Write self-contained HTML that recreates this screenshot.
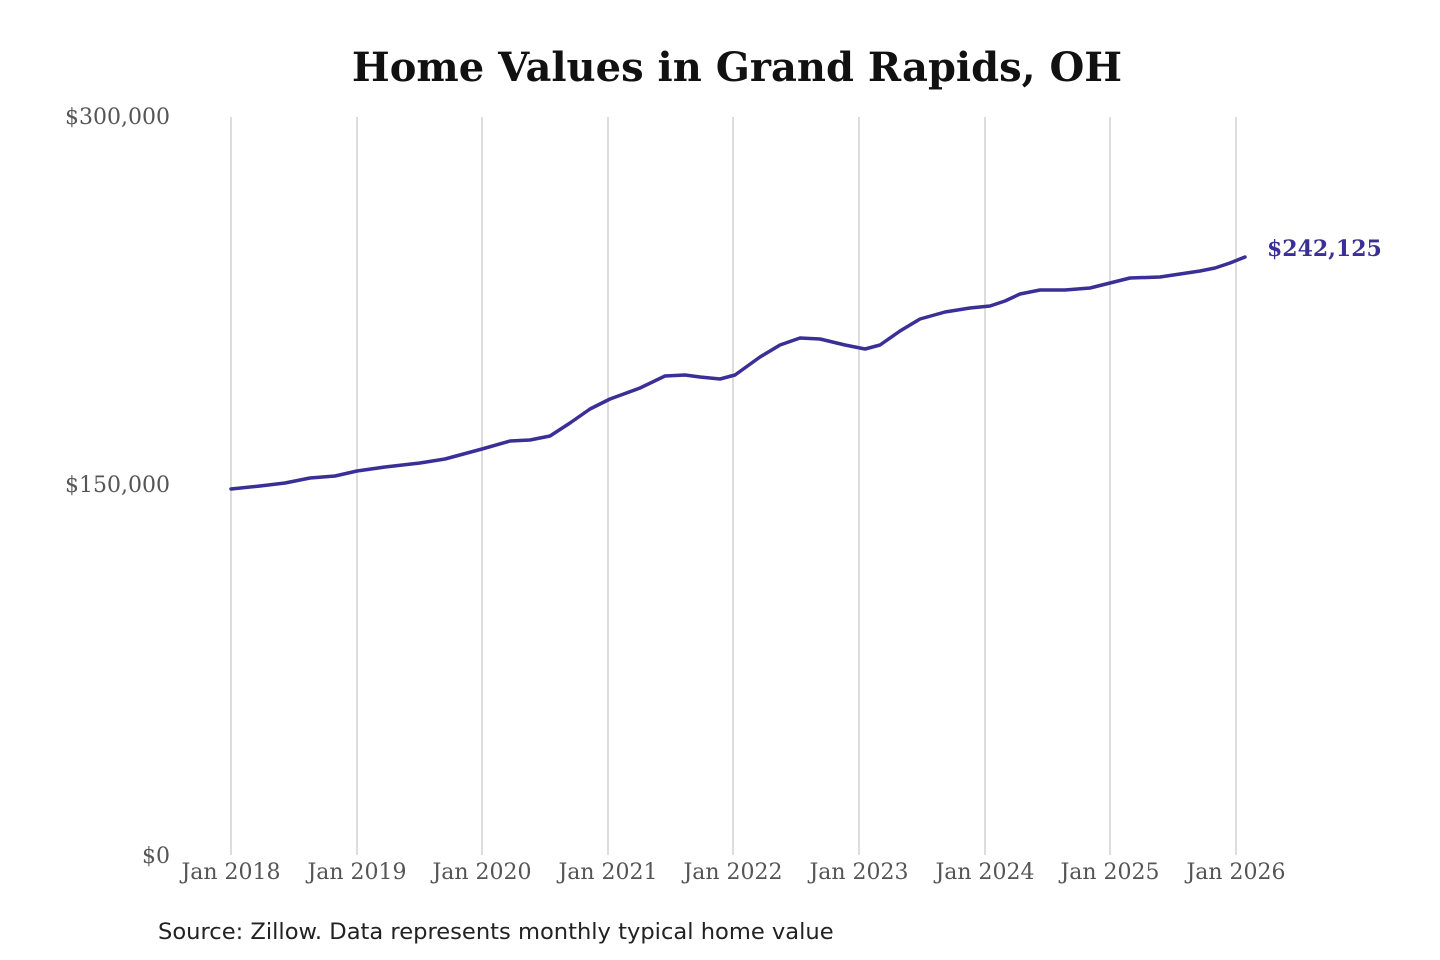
<!DOCTYPE html>
<html><head><meta charset="utf-8"><style>
html,body{margin:0;padding:0;background:#fff;width:1440px;height:960px;overflow:hidden}
svg{display:block}
</style></head><body>
<svg width="1440" height="960" viewBox="0 0 1440 960" xmlns="http://www.w3.org/2000/svg">
<text x="737" y="81" text-anchor="middle" font-family="'DejaVu Serif',serif" font-weight="bold" font-size="40" fill="#111">Home Values in Grand Rapids, OH</text>
<g stroke="#bbb" stroke-width="1">
<line x1="231" y1="117" x2="231" y2="855"/><line x1="357" y1="117" x2="357" y2="855"/>
<line x1="482" y1="117" x2="482" y2="855"/><line x1="608" y1="117" x2="608" y2="855"/>
<line x1="733" y1="117" x2="733" y2="855"/><line x1="859" y1="117" x2="859" y2="855"/>
<line x1="985" y1="117" x2="985" y2="855"/><line x1="1110" y1="117" x2="1110" y2="855"/>
<line x1="1236" y1="117" x2="1236" y2="855"/>
</g>
<g font-family="'DejaVu Serif',serif" font-size="22" fill="#555" text-anchor="end">
<text x="170" y="124">$300,000</text>
<text x="170" y="492">$150,000</text>
<text x="170" y="863">$0</text>
</g>
<g font-family="'DejaVu Serif',serif" font-size="22" fill="#555" text-anchor="middle">
<text x="231" y="879">Jan 2018</text><text x="357" y="879">Jan 2019</text>
<text x="482" y="879">Jan 2020</text><text x="608" y="879">Jan 2021</text>
<text x="733" y="879">Jan 2022</text><text x="859" y="879">Jan 2023</text>
<text x="985" y="879">Jan 2024</text><text x="1110" y="879">Jan 2025</text>
<text x="1236" y="879">Jan 2026</text>
</g>
<polyline fill="none" stroke="#3a2f96" stroke-width="3.5" stroke-linejoin="round" stroke-linecap="round"
points="231,489 260,486 285,483 310,478 335,476 357,471 385,467 420,463 445,459 482,449 510,441 530,440 550,436 570,423 590,409 610,399 640,388 665,376 685,375 700,377 720,379 735,375 760,357 780,345 800,338 820,339 845,345 865,349 880,345 900,331 920,319 945,312 970,308 990,306 1005,301 1020,294 1040,290 1065,290 1090,288 1110,283 1130,278 1160,277 1180,274 1200,271 1215,268 1230,263 1245,257"/>
<text x="1267" y="256" font-family="'DejaVu Serif',serif" font-weight="bold" font-size="22" fill="#3a2f96">$242,125</text>
<text x="158" y="939" font-family="'DejaVu Sans',sans-serif" font-size="22.6" fill="#222">Source: Zillow. Data represents monthly typical home value</text>
</svg>
</body></html>
